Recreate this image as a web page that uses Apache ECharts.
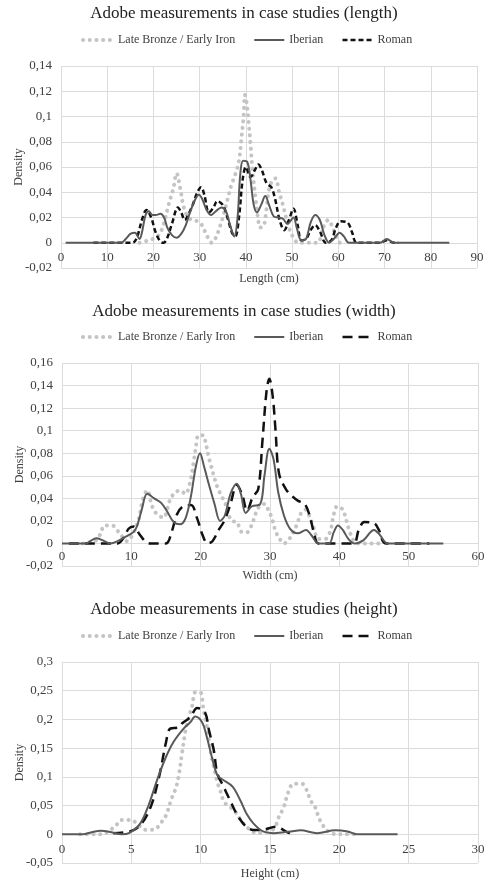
<!DOCTYPE html>
<html><head><meta charset="utf-8">
<script src="https://cdn.jsdelivr.net/npm/echarts@6/dist/echarts.min.js"></script>
<style>html,body{margin:0;padding:0;background:#fff}#c{width:488px;height:881px}</style>
</head><body><div id="c"></div>
<script>
const seriesNames = ['Late Bronze / Early Iron', 'Iberian', 'Roman'];
const chartTitles = ['Adobe measurements in case studies (length)', 'Adobe measurements in case studies (width)', 'Adobe measurements in case studies (height)'];
const xAxisNames = ['Length (cm)', 'Width (cm)', 'Height (cm)'];
const yTicks = [[-0.02, 0.14, 0.02], [-0.02, 0.16, 0.02], [-0.05, 0.3, 0.05]];
const xTicks = [[0, 90, 10], [0, 60, 10], [0, 30, 5]];

// ---- Length ----
const lenBronze = [[17,0],[19,0.002],[20.5,0.004],[21.5,0.008],[22.3,0.016],[23.2,0.029],[24.3,0.043],[25,0.055],[25.8,0.043],[26.5,0.029],[27.5,0.02],[28.5,0.018],[29.5,0.017],[30.3,0.015],[31,0.01],[31.8,0.004],[32.6,0],[33.5,0.004],[34.3,0.012],[35,0.02],[36,0.034],[36.8,0.045],[37.7,0.054],[38.5,0.065],[39.1,0.085],[39.5,0.1],[39.8,0.117],[40.2,0.11],[40.6,0.095],[41,0.078],[41.5,0.055],[42.1,0.035],[42.6,0.02],[43.1,0.012],[43.8,0.013],[44.3,0.022],[45,0.042],[45.8,0.05],[46.4,0.051],[47.2,0.04],[48,0.03],[48.7,0.02],[49.5,0.01],[50.3,0.004],[51.3,0],[55.5,0],[56.5,0.01],[57.8,0.018],[59,0.01],[60.4,0],[61,0]];
const lenIberian = [[1,0],[13,0],[14,0.003],[15,0.007],[16,0.008],[17,0.003],[17.5,0.008],[18.3,0.022],[19,0.025],[19.8,0.022],[20.5,0.022],[21.5,0.023],[22.3,0.02],[23,0.012],[24,0.006],[25,0.004],[26,0.007],[27,0.014],[28,0.025],[29,0.034],[29.8,0.038],[30.5,0.035],[31.5,0.026],[32.5,0.022],[33.5,0.025],[34.7,0.028],[35.7,0.025],[36.5,0.015],[37.5,0.005],[38.2,0.02],[38.8,0.055],[39.4,0.065],[40.3,0.064],[41,0.05],[41.7,0.03],[42.4,0.024],[43.3,0.03],[44.2,0.037],[45,0.03],[46,0.021],[47,0.02],[48,0.019],[49,0.015],[50.3,0.02],[51,0.012],[52,0.002],[53,0.003],[54,0.016],[55,0.022],[56,0.018],[57,0.006],[58,0],[59,0.003],[60.3,0.008],[61.2,0.005],[62.3,0],[69,0],[70.5,0.003],[72,0],[84,0]];
const lenRoman = [[7,0],[15.5,0],[16.5,0.005],[17.5,0.018],[18.5,0.026],[19.5,0.02],[20.5,0.008],[21.5,0.001],[22.2,0],[23,0.004],[24,0.015],[25.3,0.028],[26,0.024],[26.8,0.018],[27.5,0.022],[28.5,0.03],[29.5,0.04],[30.3,0.044],[31,0.038],[32,0.024],[33,0.028],[33.8,0.033],[35,0.03],[36,0.02],[37,0.008],[37.7,0.005],[38.5,0.02],[39.3,0.05],[40,0.06],[41,0.052],[42,0.058],[42.7,0.062],[43.5,0.057],[44.5,0.047],[45.5,0.044],[46.3,0.035],[47.3,0.018],[48.3,0.01],[49.3,0.018],[50.3,0.027],[51.2,0.014],[52,0.002],[53,0.003],[54,0.01],[55,0.014],[56,0.009],[57.3,0],[58.5,0.002],[59.5,0.012],[60.5,0.017],[62,0.016],[63,0.008],[64,0],[69,0],[70.5,0.002],[72,0],[73,0]];

// ---- Width ----
const widBronze = [[3,0],[5,0.003],[5.5,0.008],[6.2,0.016],[7.2,0.016],[8.2,0.01],[9.4,0.002],[10.2,0.008],[11,0.02],[11.7,0.04],[12.3,0.047],[13,0.033],[13.7,0.026],[14.6,0.023],[15.6,0.039],[16.3,0.045],[17,0.047],[17.8,0.044],[18.5,0.055],[19,0.073],[19.3,0.085],[19.7,0.096],[20.3,0.096],[20.8,0.087],[21.1,0.078],[21.5,0.069],[21.9,0.06],[22.4,0.05],[23.1,0.041],[23.6,0.035],[24,0.026],[24.5,0.02],[25.2,0.019],[26,0.01],[26.7,0.01],[27.4,0.017],[27.9,0.026],[28.5,0.033],[29.2,0.035],[29.8,0.029],[30.3,0.022],[30.8,0.011],[31.4,0.004],[32,0],[32.9,0.005],[33.9,0.017],[34.4,0.026],[35.1,0.03],[35.7,0.024],[36.3,0.014],[37,0.004],[38,0.004],[38.7,0.011],[39.2,0.026],[39.7,0.033],[40.5,0.03],[40.9,0.023],[41.3,0.014],[42,0.003],[42.5,0],[46,0]];
const widIberian = [[0,0],[3.5,0],[4.3,0.003],[5,0.0047],[5.8,0.003],[7,0],[8,0.002],[9.5,0.007],[10.3,0.01],[10.8,0.015],[11.5,0.03],[12.3,0.044],[13.3,0.04],[14.3,0.036],[15.2,0.028],[16.1,0.019],[17,0.017],[17.8,0.022],[18.6,0.042],[19.3,0.068],[19.9,0.08],[20.5,0.068],[21.2,0.052],[22,0.035],[22.8,0.02],[23.5,0.025],[24.3,0.044],[25.2,0.053],[25.8,0.044],[26.5,0.027],[27.4,0.033],[28.6,0.035],[29.2,0.06],[29.9,0.084],[30.5,0.075],[31.2,0.045],[32,0.025],[32.9,0.013],[34,0.009],[35.2,0.012],[36,0.007],[37,0],[38.5,0],[39.2,0.01],[39.8,0.016],[40.5,0.012],[41.3,0.004],[42.2,0],[43.5,0.003],[45,0.012],[45.8,0.008],[47,0],[55,0]];
const widRoman = [[1,0],[8,0],[9,0.006],[9.6,0.013],[10.3,0.015],[11.2,0.008],[12,0.002],[12.7,0],[15,0],[15.8,0.01],[16.6,0.026],[17.5,0.033],[18.6,0.034],[19.5,0.022],[20.3,0.007],[21,0],[21.7,0.002],[22.6,0.012],[23.4,0.02],[24.3,0.035],[25.2,0.052],[26,0.043],[26.7,0.029],[27.5,0.041],[28.3,0.048],[28.9,0.09],[29.5,0.135],[29.9,0.146],[30.4,0.13],[30.8,0.1],[31.3,0.062],[32.3,0.048],[33.2,0.042],[34,0.038],[35,0.035],[35.7,0.025],[36.4,0.008],[37,0],[42,0],[42.8,0.012],[43.6,0.019],[45,0.018],[45.7,0.012],[46.7,0],[53,0]];

// ---- Height ----
const heiBronze = [[1.3,0],[2,0],[2.8,0],[3.8,0.013],[4.3,0.025],[5,0.025],[5.5,0.016],[6.1,0.0075],[6.7,0.0087],[7.1,0.019],[7.5,0.033],[7.9,0.062],[8.2,0.08],[8.4,0.1],[8.65,0.14],[8.9,0.18],[9.1,0.2],[9.4,0.225],[9.6,0.247],[9.97,0.247],[10.2,0.218],[10.5,0.18],[10.7,0.146],[10.9,0.123],[11.2,0.091],[11.4,0.077],[11.7,0.056],[12.1,0.048],[12.5,0.039],[12.9,0.025],[13.3,0.013],[14.1,0.002],[14.7,0.004],[15.3,0.01],[15.6,0.028],[16,0.048],[16.3,0.072],[16.7,0.088],[17.3,0.088],[17.7,0.074],[17.9,0.06],[18.3,0.045],[18.5,0.03],[18.8,0.016],[19.2,0.005],[19.8,0],[20.5,0],[21.1,0]];
const heiIberian = [[0,0],[1.5,0],[2.2,0.004],[2.8,0.006],[3.5,0.004],[4.3,0],[4.9,0.003],[5.65,0.019],[6.25,0.051],[6.85,0.094],[7.45,0.132],[8.05,0.161],[8.77,0.184],[9.25,0.195],[9.6,0.205],[10.1,0.195],[10.45,0.169],[10.8,0.135],[11.2,0.103],[11.6,0.095],[12.3,0.083],[12.9,0.057],[13.3,0.036],[13.8,0.019],[14.5,0.005],[15.3,0.002],[16.5,0.005],[17.2,0.007],[18.4,0.002],[19.7,0.007],[20.6,0.005],[21.3,0],[24.2,0]];
const heiRoman = [[3.7,0.002],[4.9,0.005],[5.65,0.016],[6.4,0.048],[7,0.1],[7.5,0.16],[7.8,0.184],[8.4,0.186],[8.65,0.193],[9.25,0.204],[9.75,0.22],[10.3,0.213],[10.6,0.181],[10.95,0.146],[11.2,0.106],[11.65,0.083],[12.1,0.06],[12.7,0.031],[13.3,0.013],[13.8,0.0075],[14.5,0.008],[15.4,0.013],[16.3,0.003],[16.7,0]];

const seriesData = [[lenBronze, lenIberian, lenRoman], [widBronze, widIberian, widRoman], [heiBronze, heiIberian, heiRoman]];

const FONT = 'Liberation Serif';
const gridBoxes = [
  {left: 61, top: 66, width: 416, height: 202},
  {left: 62, top: 363, width: 416, height: 203},
  {left: 62, top: 662, width: 416, height: 201}
];
const titleTops = [0, 298, 596];
const legendTops = [29, 326, 625];
const xLabelMargins = [-17, -16, -20];
const xNameGaps = [5, 4, 5];
const romanDash = [[5, 3], [10, 6], [10, 6]];

const styles = [
  {color: '#c4c4c4', width: 4, type: [0.1, 6.6], cap: 'round'},
  {color: '#595959', width: 2, type: 'solid', cap: 'butt'},
  {color: '#111111', width: 2.5, type: 'dashed', cap: 'butt'}
];

function fmt(v) { return String(parseFloat(v.toFixed(4))).replace('.', ','); }

const option = {
  animation: false,
  backgroundColor: '#fff',
  title: chartTitles.map((t, i) => ({
    text: t, left: 'center', top: titleTops[i],
    textStyle: {fontFamily: FONT, fontSize: 17, fontWeight: 'normal', color: '#222'}
  })),
  legend: [0, 1, 2].map(i => ({
    left: 76, top: legendTops[i], itemWidth: 30, itemHeight: 14, itemGap: 18,
    textStyle: {fontFamily: FONT, fontSize: 12, color: '#404040'},
    itemStyle: {opacity: 0},
    data: seriesNames.map((n, k) => ({
      name: n,
      lineStyle: Object.assign({}, styles[k], k === 2 ? {type: romanDash[i]} : {})
    }))
  })),
  grid: gridBoxes.map(g => Object.assign({containLabel: false, outerBoundsMode: 'none'}, g)),
  xAxis: [0, 1, 2].map(i => ({
    type: 'value', gridIndex: i, min: xTicks[i][0], max: xTicks[i][1], interval: xTicks[i][2],
    name: xAxisNames[i], nameLocation: 'middle', nameGap: xNameGaps[i],
    nameTextStyle: {fontFamily: FONT, fontSize: 12, color: '#404040'},
    axisLine: {show: false, onZero: false},
    axisTick: {show: false},
    axisLabel: {fontFamily: FONT, fontSize: 13, color: '#404040', margin: xLabelMargins[i]},
    splitLine: {show: true, lineStyle: {color: '#dcdcdc'}}
  })),
  yAxis: [0, 1, 2].map(i => ({
    type: 'value', gridIndex: i, min: yTicks[i][0], max: yTicks[i][1], interval: yTicks[i][2],
    name: 'Density', nameLocation: 'middle', nameGap: 36, nameRotate: 90, nameMoveOverlap: false,
    nameTextStyle: {fontFamily: FONT, fontSize: 12, color: '#404040'},
    axisLine: {show: false}, axisTick: {show: false},
    axisLabel: {fontFamily: FONT, fontSize: 13, color: '#404040', margin: 9, formatter: fmt},
    splitLine: {show: true, lineStyle: {color: '#dcdcdc'}}
  })),
  series: []
};

for (let i = 0; i < 3; i++) {
  for (let k = 0; k < 3; k++) {
    const ls = Object.assign({}, styles[k]);
    if (k === 2) ls.type = romanDash[i];
    option.series.push({
      type: 'line', name: seriesNames[k], xAxisIndex: i, yAxisIndex: i,
      data: seriesData[i][k], symbol: 'none', showSymbol: false, smooth: 0.35,
      lineStyle: ls, z: k === 0 ? 1 : (k === 1 ? 3 : 2)
    });
  }
}

const chart = echarts.init(document.getElementById('c'), null, {renderer: 'canvas'});
chart.setOption(option);
</script>
</body></html>
